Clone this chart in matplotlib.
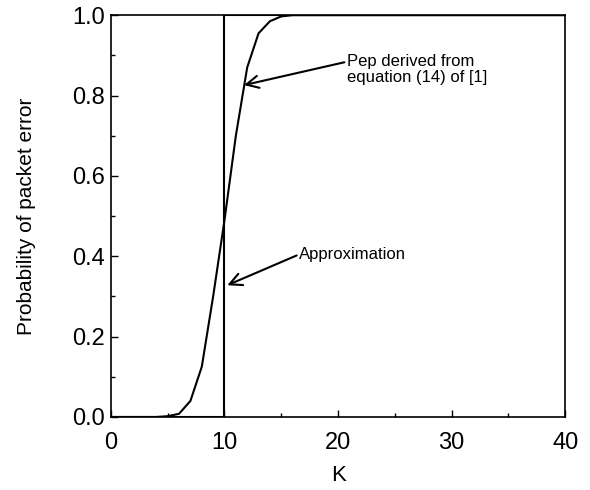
import numpy as np
import matplotlib.pyplot as plt
from matplotlib.ticker import MultipleLocator

plt.rcParams['font.family'] = ['Liberation Sans', 'DejaVu Sans']

# Pep from equation (14)
k_values = [0, 1, 2, 3, 4, 5, 6, 7, 8, 9, 10, 11, 12, 13, 14, 15, 16, 20, 25, 30, 35, 40]
pep_values = [0.0, 0.0, 0.0, 0.0, 0.0, 0.002, 0.008, 0.04, 0.125, 0.30, 0.49,
              0.70, 0.87, 0.955, 0.985, 0.997, 1.0, 1.0, 1.0, 1.0, 1.0, 1.0]

# step approximation at K = 10
approx_k = [0, 10, 10, 40]
approx_p = [0.0, 0.0, 1.0, 1.0]

fig = plt.figure(figsize=(5.9, 4.9), dpi=100)
ax = fig.add_axes([0.188, 0.149, 0.770, 0.82])

ax.plot(k_values, pep_values, color='black', lw=1.5)
ax.plot(approx_k, approx_p, color='black', lw=1.5)

ax.set_xlim(0, 40)
ax.set_ylim(0, 1.0)
ax.xaxis.set_major_locator(MultipleLocator(10))
ax.xaxis.set_minor_locator(MultipleLocator(5))
ax.yaxis.set_major_locator(MultipleLocator(0.2))
ax.yaxis.set_minor_locator(MultipleLocator(0.1))
ax.yaxis.set_major_formatter(plt.FormatStrFormatter('%.1f'))
ax.tick_params(which='both', direction='in', labelsize=17, top=False, right=False)
ax.tick_params(which='major', length=5, width=1)
ax.tick_params(which='minor', length=3, width=1)
ax.tick_params(axis='x', pad=11)
ax.tick_params(axis='y', pad=4.5)
for s in ax.spines.values():
    s.set_linewidth(1.2)

ax.set_xlabel('K', fontsize=16, labelpad=8)
ax.set_ylabel('Probability of packet error', fontsize=15, labelpad=26)

ax.annotate('Pep derived from\nequation (14) of [1]', xy=(11.72, 0.826), xytext=(20.8, 0.865),
            fontsize=12, ha='left', va='center', linespacing=1.1,
            arrowprops=dict(arrowstyle='->', lw=1.5, color='black', mutation_scale=22,
                            shrinkA=0, shrinkB=0, relpos=(0, 0.75)))
ax.annotate('Approximation', xy=(10.25, 0.328), xytext=(16.6, 0.405),
            fontsize=12, ha='left', va='center',
            arrowprops=dict(arrowstyle='->', lw=1.5, color='black', mutation_scale=22,
                            shrinkA=0, shrinkB=0, relpos=(0, 0.5)))

plt.savefig('out.png', dpi=100)
